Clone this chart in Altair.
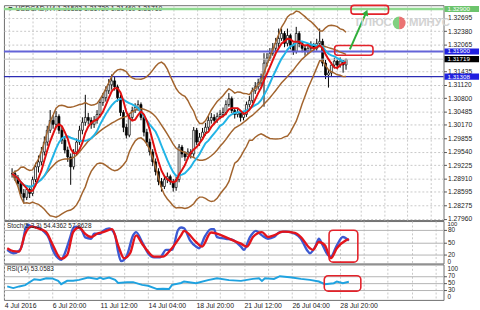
import json
import altair as alt
import pandas as pd

# ---------------- data ----------------
bar_index = list(range(2, 117))

close_price = [
    1.29022, 1.28929, 1.28789, 1.28557, 1.28464, 1.28650, 1.28557, 1.28882, 1.29185, 1.29301,
    1.29534, 1.29766, 1.30045, 1.30278, 1.30185, 1.30371, 1.30045, 1.29813, 1.29580, 1.29417,
    1.29185, 1.29534, 1.29766, 1.30045, 1.30231, 1.30347, 1.30278, 1.30185, 1.30278, 1.30417,
    1.30696, 1.30812, 1.30975, 1.31115, 1.31208, 1.31068, 1.30812, 1.30464, 1.30115, 1.29929,
    1.30347, 1.30510, 1.30580, 1.30650, 1.30347, 1.29999, 1.29766, 1.29534, 1.29301, 1.29069,
    1.28836, 1.28720, 1.28882, 1.28952, 1.28836, 1.28697, 1.28882, 1.29649, 1.29487, 1.29417,
    1.29534, 1.29487, 1.30045, 1.29766, 1.29882, 1.29999, 1.30115, 1.30278, 1.30347, 1.30278,
    1.30371, 1.30417, 1.30464, 1.30650, 1.30789, 1.30510, 1.30417, 1.30464, 1.30347, 1.30417,
    1.30650, 1.30743, 1.30975, 1.31068, 1.31161, 1.31277, 1.31626, 1.31742, 1.31859, 1.31975,
    1.32091, 1.32207, 1.32324, 1.32091, 1.32277, 1.32045, 1.31905, 1.32324, 1.32091, 1.31975,
    1.31905, 1.31975, 1.32045, 1.31975, 1.32091, 1.32138, 1.31626, 1.31347, 1.31394, 1.31580,
    1.31673, 1.31580, 1.31673, 1.31583, 1.31719,
]
high_price = [
    1.2915, 1.2910, 1.2899, 1.2884, 1.2866, 1.2872, 1.2874, 1.2895, 1.2928, 1.2945,
    1.2965, 1.2990, 1.3015, 1.3052, 1.3040, 1.3050, 1.3042, 1.3012, 1.2990, 1.2966,
    1.2950, 1.2960, 1.2985, 1.3015, 1.3035, 1.3088, 1.3045, 1.3035, 1.3038, 1.3052,
    1.3078, 1.3092, 1.3108, 1.3125, 1.3136, 1.3130, 1.3112, 1.3088, 1.3052, 1.3020,
    1.3042, 1.3060, 1.3068, 1.3075, 1.3070, 1.3040, 1.3008, 1.2985, 1.2960, 1.2938,
    1.2915, 1.2892, 1.2896, 1.2905, 1.2900, 1.2890, 1.2895, 1.2972, 1.2970, 1.2955,
    1.2962, 1.2960, 1.3012, 1.3010, 1.2998, 1.3010, 1.3022, 1.3038, 1.3045, 1.3042,
    1.3046, 1.3052, 1.3058, 1.3075, 1.3092, 1.3084, 1.3056, 1.3055, 1.3050, 1.3050,
    1.3072, 1.3085, 1.3105, 1.3118, 1.3126, 1.3138, 1.3186, 1.3186, 1.3198, 1.3210,
    1.3222, 1.3244, 1.3244, 1.3238, 1.3244, 1.3232, 1.3210, 1.3248, 1.3238, 1.3214,
    1.3204, 1.3206, 1.3214, 1.3210, 1.3220, 1.3244, 1.3220, 1.3170, 1.3148, 1.3165,
    1.3175, 1.3172, 1.3176, 1.3170, 1.3172,
]
low_price = [
    1.2893, 1.2885, 1.2872, 1.2848, 1.2833, 1.2840, 1.2845, 1.2850, 1.2882, 1.2905,
    1.2922, 1.2945, 1.2968, 1.2998, 1.3008, 1.3010, 1.2996, 1.2972, 1.2950, 1.2930,
    1.2876, 1.2912, 1.2945, 1.2970, 1.2995, 1.3015, 1.3018, 1.3008, 1.3010, 1.3020,
    1.3035, 1.3062, 1.3072, 1.3090, 1.3100, 1.3098, 1.3072, 1.3038, 1.3000, 1.2985,
    1.2988, 1.3028, 1.3045, 1.3050, 1.3028, 1.2990, 1.2968, 1.2945, 1.2920, 1.2898,
    1.2875, 1.2860, 1.2866, 1.2880, 1.2876, 1.2860, 1.2862, 1.2882, 1.2940, 1.2932,
    1.2936, 1.2938, 1.2942, 1.2970, 1.2968, 1.2982, 1.2992, 1.3005, 1.3020, 1.3018,
    1.3022, 1.3030, 1.3035, 1.3040, 1.3060, 1.3045, 1.3032, 1.3035, 1.3025, 1.3028,
    1.3036, 1.3058, 1.3068, 1.3090, 1.3100, 1.3108, 1.3060, 1.3155, 1.3168, 1.3180,
    1.3190, 1.3200, 1.3215, 1.3200, 1.3202, 1.3195, 1.3182, 1.3185, 1.3200, 1.3188,
    1.3180, 1.3184, 1.3190, 1.3188, 1.3192, 1.3200, 1.3155, 1.3125, 1.3105, 1.3132,
    1.3150, 1.3148, 1.3152, 1.3140, 1.3147,
]

# Stochastic(5,3,3): main (blue) and signal (red), read at sample bars
stoch_main_index = [2, 4, 6, 7, 8, 9, 10, 13, 14, 16, 17, 19, 20, 21, 23, 24, 25, 27, 28, 30,
                    31, 33, 34, 36, 38, 39, 40, 42, 44, 45, 47, 49, 51, 53, 55, 57, 59, 60, 61, 63,
                    65, 66, 68, 70, 71, 72, 75, 77, 80, 81, 83, 85, 87, 89, 91, 93, 95, 98, 100, 102,
                    103, 105, 106, 107, 109, 110, 112, 114, 116]
stoch_main_value = [32, 24, 30, 45, 80, 92, 89, 84, 78, 59, 36, 12, 8, 20, 62, 84, 88, 78, 62, 59,
                    71, 71, 78, 84, 67, 28, 5, 20, 67, 75, 51, 24, 14, 14, 32, 32, 80, 86, 84, 55,
                    40, 36, 65, 82, 82, 63, 59, 57, 40, 32, 63, 78, 67, 59, 63, 75, 76, 71, 59, 32,
                    24, 43, 59, 47, 20, 16, 43, 63, 54.4]
stoch_signal_index = [2, 4, 6, 8, 10, 13, 15, 17, 20, 22, 24, 26, 28, 30, 32, 34, 37, 39, 41, 43,
                      45, 47, 49, 51, 54, 56, 60, 61, 65, 67, 70, 72, 76, 80, 82, 84, 87, 89, 91, 94,
                      98, 100, 103, 104, 106, 108, 110, 112, 115, 116]
stoch_signal_value = [36, 29, 28, 71, 88, 82, 75, 47, 11, 20, 75, 86, 71, 63, 71, 75, 82, 43, 12, 24,
                      67, 47, 28, 16, 16, 28, 67, 78, 51, 40, 74, 71, 59, 47, 40, 63, 75, 63, 67, 76,
                      73, 63, 36, 32, 51, 43, 12, 36, 55, 57.9]
# RSI(14), read at sample bars
rsi_index = [2, 4, 6, 8, 11, 13, 15, 17, 19, 20, 22, 24, 26, 29, 32, 33, 34, 36, 38, 39,
             42, 44, 47, 49, 52, 54, 56, 57, 60, 61, 65, 69, 72, 76, 80, 84, 86, 87, 88, 91,
             93, 97, 100, 103, 106, 108, 111, 112, 114, 116]
rsi_value = [39.5, 34.6, 39.5, 43.3, 60.7, 58.7, 63.6, 63.0, 55.8, 46.0, 56.0, 56.0, 58.7, 65.6, 61.6, 65.6, 61.6, 65.6, 58.7, 49.7,
             52.0, 52.0, 44.0, 41.3, 31.7, 32.6, 31.7, 44.0, 49.7, 54.0, 49.0, 58.0, 63.6, 58.0, 55.8, 61.6, 63.6, 55.8, 63.6, 61.6,
             69.4, 65.6, 61.6, 58.7, 54.0, 46.0, 49.0, 54.0, 49.0, 53.06]

time_tick_index = [1, 17, 33, 49, 65, 81, 97, 113]
time_tick_label = ["4 Jul 2016", "6 Jul 20:00", "11 Jul 12:00", "14 Jul 04:00",
                   "18 Jul 20:00", "21 Jul 12:00", "26 Jul 04:00", "28 Jul 20:00"]
grid_index = list(range(1, 147, 8))

price_ticks = [1.32695, 1.32380, 1.32065, 1.31435, 1.31120, 1.30800, 1.30485, 1.30170,
               1.29855, 1.29540, 1.29225, 1.28910, 1.28595, 1.28275, 1.27960]

level_price = [1.32900, 1.31900, 1.31719, 1.31308]
level_color = ["#8fd98f", "#6464d8", "#c4c4c4", "#2c2cb4"]
level_width = [2.5, 2.0, 1.0, 1.5]
marker_bg = ["#6cc46c", "#2020e0", "#000000", "#2020e0"]

stoch_ticks = [20, 50, 80]
rsi_ticks = [30, 50, 70]

title_main = "\u25bc USDCAD,H4  1.31583 1.31720 1.31469 1.31719"
title_stoch = "Stoch(5,3,3) 54.4362 57.8628"
title_rsi = "RSI(14) 53.0583"

# annotation boxes (bar index / value units)
main_box_x1 = [117.7, 112.1]
main_box_x2 = [130.5, 125.2]
main_box_top = [1.32985, 1.32040]
main_box_bottom = [1.32780, 1.31810]
arrow_x = [117.3, 122.9]
arrow_price = [1.31950, 1.32820]
stoch_box = [109.4, 119.0, 79.5, 2.6]
rsi_box = [107.8, 120.0, 71.0, 25.8]

# ---------------- chart ----------------
FONT = "Liberation Sans"
GRID = "#c8c8c8"
W = 446
H_MAIN, H_STOCH, H_RSI = 218, 43, 36

df = pd.DataFrame({"i": bar_index, "close": close_price, "high": high_price, "low": low_price})
df_sk = pd.DataFrame({"i": stoch_main_index, "v": stoch_main_value})
df_sd = pd.DataFrame({"i": stoch_signal_index, "v": stoch_signal_value})
df_rsi = pd.DataFrame({"i": rsi_index, "v": rsi_value})

xsc = alt.Scale(domain=[0.9, 147.6], nice=False, zero=False)
ysc = alt.Scale(domain=[1.27930, 1.32990], nice=False, zero=False)
ssc = alt.Scale(domain=[-0.5, 101.5], nice=False, zero=False)
rsc = alt.Scale(domain=[0, 104], nice=False, zero=False)

ax_grid_x = alt.Axis(values=grid_index, labels=False, ticks=False, domain=False, grid=True,
                     gridColor=GRID, gridDash=[2, 2], title=None)
label_expr = (f"indexof({json.dumps(time_tick_index)}, datum.value) >= 0 ? "
              f"{json.dumps(time_tick_label)}[indexof({json.dumps(time_tick_index)}, datum.value)] : ''")
ax_time_x = alt.Axis(values=grid_index, labelExpr=label_expr, ticks=False, domain=False, grid=True,
                     gridColor=GRID, gridDash=[2, 2], title=None, labelFont=FONT, labelFontSize=7,
                     labelColor="#222222", labelAlign="left", labelPadding=2, labelOverlap=False,
                     labelBound=False, labelFlush=False)
ax_common = dict(orient="right", labelFont=FONT, labelColor="#222222", labelPadding=1,
                 tickSize=3, tickColor="#555555", domain=False, labelOverlap=False, title=None)
ax_price = alt.Axis(values=price_ticks, format=".5f", grid=True, gridColor=GRID, gridDash=[2, 2],
                    labelFontSize=6.8, **ax_common)
ax_stoch = alt.Axis(values=stoch_ticks, format="d", grid=True, gridColor="#b4b4b4", labelFontSize=6.5,
                    **ax_common)
ax_rsi = alt.Axis(values=rsi_ticks, format="d", grid=True, gridColor="#b4b4b4", labelFontSize=6.5,
                  **ax_common)

srt = [alt.SortField("i")]


def wf(op, field, name, param=None):
    d = {"op": op, "field": field, "as": name}
    if param is not None:
        d["param"] = param
    return alt.WindowFieldDef(**d)


base = (
    alt.Chart(df)
    .transform_window(window=[wf("lag", "close", "prev", 1)], sort=srt)
    .transform_calculate(open="isValid(datum.prev) ? datum.prev : datum.close")
    .transform_window(window=[wf("mean", "close", "ma5")], frame=[-4, 0], sort=srt)
    .transform_window(window=[wf("mean", "close", "ma10")], frame=[-9, 0], sort=srt)
    .transform_window(window=[wf("mean", "close", "bbm"), wf("stdevp", "close", "bbs")],
                      frame=[-19, 0], sort=srt)
    .transform_calculate(bbu="datum.bbm + 2 * datum.bbs", bbl="datum.bbm - 2 * datum.bbs")
)


def X(field, axis=ax_grid_x):
    return alt.X(field, type="quantitative", scale=xsc, axis=axis)


def YP(field):
    return alt.Y(field, type="quantitative", scale=ysc, axis=ax_price)


def txt(s, x, y, size=7, color="#222222", baseline="middle", **kw):
    return alt.Chart(pd.DataFrame({"t": [s]})).mark_text(
        align="left", baseline=baseline, fontSize=size, color=color, font=FONT, **kw
    ).encode(text="t:N", x=alt.value(x), y=alt.value(y))


# ---- main panel ----
df_levels = pd.DataFrame({"price": level_price, "col": level_color, "w": level_width, "bg": marker_bg,
                          "lab": [f"{p:.5f}" for p in level_price]})

title_layer = txt(title_main, 3, 4, size=7)
levels = alt.Chart(df_levels).mark_rule().encode(
    y=YP("price"), color=alt.Color("col:N", scale=None), strokeWidth=alt.StrokeWidth("w:Q", scale=None)
)
wicks = base.mark_rule(color="#000000", strokeWidth=1).encode(x=X("i"), y=YP("low"), y2="high:Q")
bodies = base.mark_bar(size=2, stroke="#000000", strokeWidth=0.7).encode(
    x=X("i"), y=YP("open"), y2="close:Q",
    fill=alt.condition("datum.close >= datum.open", alt.value("#ffffff"), alt.value("#000000")),
)
brown = "#a2642e"
bb_u = base.mark_line(color=brown, strokeWidth=1.5, clip=True).encode(x=X("i"), y=YP("bbu"))
bb_m = base.mark_line(color=brown, strokeWidth=1.5, clip=True).encode(x=X("i"), y=YP("bbm"))
bb_l = base.mark_line(color=brown, strokeWidth=1.5, clip=True).encode(x=X("i"), y=YP("bbl"))
ma10 = base.mark_line(color="#22b4e6", strokeWidth=2).encode(x=X("i"), y=YP("ma10"))
ma5 = base.mark_line(color="#e01010", strokeWidth=2).encode(x=X("i"), y=YP("ma5"))

df_boxes = pd.DataFrame({"x1": main_box_x1, "x2": main_box_x2, "t": main_box_top, "b": main_box_bottom})
boxes = alt.Chart(df_boxes).mark_rect(filled=False, stroke="#e3222a", strokeWidth=1.6, cornerRadius=3).encode(
    x=X("x1"), x2="x2:Q", y=YP("t"), y2="b:Q"
)
df_arrow = pd.DataFrame({"x1": [arrow_x[0]], "x2": [arrow_x[1]], "p1": [arrow_price[0]], "p2": [arrow_price[1]]})
arrow_line = alt.Chart(df_arrow).mark_rule(color="#2fae3a", strokeWidth=2).encode(
    x=X("x1"), x2="x2:Q", y=YP("p1"), y2="p2:Q"
)
arrow_head = alt.Chart(df_arrow).mark_point(shape="triangle-up", filled=True, size=45, angle=24,
                                            color="#2fae3a", opacity=1).encode(x=X("x2"), y=YP("p2"))

wm1 = txt("ПЛЮС", 357, 18, size=11.5, color="#d2d2d2", fontWeight="bold")
wm2 = txt("МИНУС", 411, 18, size=11.5, color="#d2d2d2", fontWeight="bold")
one = pd.DataFrame({"a": [0]})
logo_g = alt.Chart(one).mark_arc(theta=3.1416, theta2=6.2832, radius=6.5, color="#62c462", opacity=0.8).encode(
    x=alt.value(401), y=alt.value(18))
logo_r = alt.Chart(one).mark_arc(theta=0.0, theta2=3.1416, radius=6.5, color="#e65050", opacity=0.8).encode(
    x=alt.value(401), y=alt.value(18))

marker_rect = alt.Chart(df_levels).transform_calculate(
    t="datum.price + 0.00072", b="datum.price - 0.00072"
).mark_rect().encode(
    x=alt.value(447), x2=alt.value(482), y=YP("t"), y2="b:Q", fill=alt.Fill("bg:N", scale=None)
)
marker_text = alt.Chart(df_levels).mark_text(align="left", baseline="middle", fontSize=6.3, color="#ffffff",
                                             font=FONT).encode(x=alt.value(450), y=YP("price"), text="lab:N")

main = alt.layer(
    title_layer, wicks, bodies, levels, bb_u, bb_m, bb_l, ma10, ma5,
    boxes, arrow_line, arrow_head, wm1, logo_g, logo_r, wm2, marker_rect, marker_text,
).properties(width=W, height=H_MAIN)


# ---- stochastic panel ----
def YS(field):
    return alt.Y(field, type="quantitative", scale=ssc, axis=ax_stoch)


stoch_k = alt.Chart(df_sk).mark_line(color="#3c5ad2", strokeWidth=2.4, interpolate="monotone").encode(
    x=X("i"), y=YS("v"))
stoch_d = alt.Chart(df_sd).mark_line(color="#e3141b", strokeWidth=2.4, interpolate="monotone").encode(
    x=X("i"), y=YS("v"))
stoch_bx = alt.Chart(pd.DataFrame({"x1": [stoch_box[0]], "x2": [stoch_box[1]], "t": [stoch_box[2]],
                                   "b": [stoch_box[3]]})).mark_rect(
    filled=False, stroke="#e3222a", strokeWidth=1.6, cornerRadius=4).encode(
    x=X("x1"), x2="x2:Q", y=YS("t"), y2="b:Q")
stoch = alt.layer(
    stoch_k, stoch_d, stoch_bx, txt(title_stoch, 3, 5, size=6.5),
    txt("100", W + 4, 2.8, size=6), txt("0", W + 4, 42, size=6.5),
).properties(width=W, height=H_STOCH)


# ---- RSI panel ----
def YR(field):
    return alt.Y(field, type="quantitative", scale=rsc, axis=ax_rsi)


rsi_line = alt.Chart(df_rsi).mark_line(color="#1ea2e0", strokeWidth=2).encode(
    x=X("i", axis=ax_time_x), y=YR("v"))
rsi_bx = alt.Chart(pd.DataFrame({"x1": [rsi_box[0]], "x2": [rsi_box[1]], "t": [rsi_box[2]],
                                 "b": [rsi_box[3]]})).mark_rect(
    filled=False, stroke="#e3222a", strokeWidth=1.6, cornerRadius=4).encode(
    x=X("x1", axis=ax_time_x), x2="x2:Q", y=YR("t"), y2="b:Q")
rsi = alt.layer(
    rsi_line, rsi_bx, txt(title_rsi, 3, 5, size=6.5),
    txt("100", W + 4, 4.5, size=6.5), txt("0", W + 4, 33, size=6.5),
).properties(width=W, height=H_RSI)

chart = (
    alt.vconcat(main, stoch, rsi, spacing=1, bounds="flush")
    .resolve_scale(x="independent", y="independent")
    .properties(padding={"left": 2, "top": 1, "right": 0, "bottom": 0}, background="#ffffff")
    .configure_view(stroke="#6e6e6e", strokeWidth=1)
    .configure_text(font=FONT)
)

chart.save("out.html", embed_options={"renderer": "svg", "actions": False})
